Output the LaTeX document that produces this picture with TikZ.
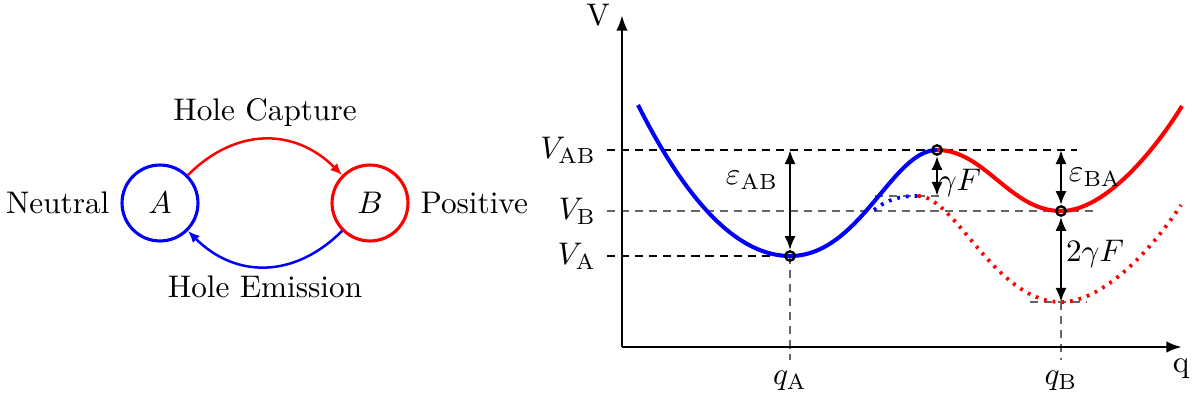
\documentclass[tikz,border=0pt]{standalone}
\usetikzlibrary{arrows.meta}
\begin{document}
\begin{tikzpicture}[x=0.32pt,y=-0.32pt,
  state/.style={circle,minimum size=24.3pt,inner sep=0pt,line width=1pt},
  transarrow/.style={line width=0.8pt,-{Latex[length=3.8pt,width=3.2pt]}},
  axisline/.style={line width=0.9pt,-{Latex[length=5pt,width=3.7pt]}},
  dimarrow/.style={line width=0.85pt,{Latex[length=4.5pt,width=3.6pt]}-{Latex[length=4.5pt,width=3.6pt]}},
  guideline/.style={line width=0.4pt,dash pattern=on 2.6pt off 1.9pt},
  greyguide/.style={guideline,black!60},
  solidcurve/.style={line width=1.3pt},
  dotcurve/.style={line width=1.2pt,dash pattern=on 0.9pt off 1.9pt},
  dotmark/.style={circle,draw,line width=0.75pt,minimum size=3pt,inner sep=0pt}]
\useasboundingbox (0,0) rectangle (1201,403);

% ---------- left: state diagram ----------
\node[state,draw=blue] (A) at (160,203) {$A$};
\node[state,draw=red]  (B) at (370,203) {$B$};
\node[anchor=east] (neutral) at (A.west) {Neutral};
\node[anchor=west] (positive) at (B.east) {Positive};
\draw[transarrow,red]  (A.45)   to[out=45,in=135,looseness=1.12] (B.135);
\draw[transarrow,blue] (B.-135) to[out=-135,in=-45,looseness=1.12] (A.-45);
\node (capture)  at (265,113) {Hole Capture};
\node (emission) at (265,287) {Hole Emission};

% ---------- right: potential curves ----------
\coordinate (O) at (622,347);
\coordinate (ytop) at (622,15);
\coordinate (xend) at (1182,347);

\coordinate (qA) at (790,256);
\coordinate (peak) at (937,150);
\coordinate (qB) at (1061,211);
\coordinate (lowB) at (1061,302);

\coordinate (vabS) at (607,150);  \coordinate (vabE) at (1077,150);
\coordinate (vbS)  at (607,211);  \coordinate (vbE)  at (1093,211);
\coordinate (vaS)  at (607,256);
\coordinate (gS)   at (875,196);  \coordinate (gE)   at (943,196);
\coordinate (lS)   at (1030,302); \coordinate (lE)   at (1087,302);
\coordinate (qAd)  at (790,360);  \coordinate (qBd)  at (1061,360);
\coordinate (epsTop) at (790,150);
\coordinate (gFbot)  at (937,196);
\coordinate (baTop)  at (1061,150);

% guide lines
\draw[guideline] (vabS) -- (vabE);
\draw[greyguide] (vbS) -- (vbE);
\draw[guideline] (vaS) -- (qA);
\draw[greyguide] (gS) -- (gE);
\draw[greyguide] (lS) -- (lE);
\draw[greyguide] (qA) -- (qAd);
\draw[greyguide] (lowB) -- (qBd);

% dotted (tilted) curve
\draw[dotcurve,blue] (874,210) .. controls (888,199) and (900,196) .. (918,196);
\draw[dotcurve,red] (918,196) .. controls (955,196) and (995,302) .. (lowB)
   .. controls (1105,302) and (1155,245) .. (1181,205);

% solid curves
\draw[solidcurve,blue] (638,105) .. controls (688.7,205.7) and (739.3,256) .. (qA)
   .. controls (860,256) and (892,150) .. (peak);
\draw[solidcurve,red] (peak) .. controls (985,150) and (1010,211) .. (qB)
   .. controls (1105,211) and (1155,150) .. (1182,106);

% axes
\draw[axisline] (O) -- (ytop);
\draw[axisline] (O) -- (xend);
\node (Vlab) at (598,15) {V};
\node (qlab) at (1181,369) {q};

% markers
\node[dotmark] (mA) at (qA) {};
\node[dotmark] (mP) at (peak) {};
\node[dotmark] (mB) at (qB) {};

% dimension arrows
\draw[dimarrow] (epsTop) -- (mA.north);
\draw[dimarrow] (mP.south) -- (gFbot);
\draw[dimarrow] (baTop) -- (mB.north);
\draw[dimarrow] (mB.south) -- (lowB);

% labels
\node[anchor=east] (lVAB) at (vabS) {$V_{\mathrm{AB}}$};
\node[anchor=east] (lVB)  at (vbS)  {$V_{\mathrm{B}}$};
\node[anchor=east] (lVA)  at (vaS)  {$V_{\mathrm{A}}$};
\node[anchor=north] (lqA) at (qAd) {$q_{\mathrm{A}}$};
\node[anchor=north] (lqB) at (qBd) {$q_{\mathrm{B}}$};
\node (leAB) at (752,180) {$\varepsilon_{\mathrm{AB}}$};
\node (lgF)  at (960,183) {$\gamma F$};
\node (leBA) at (1095,177) {$\varepsilon_{\mathrm{BA}}$};
\node (l2gF) at (1095,254) {$2\gamma F$};
\end{tikzpicture}
\end{document}
